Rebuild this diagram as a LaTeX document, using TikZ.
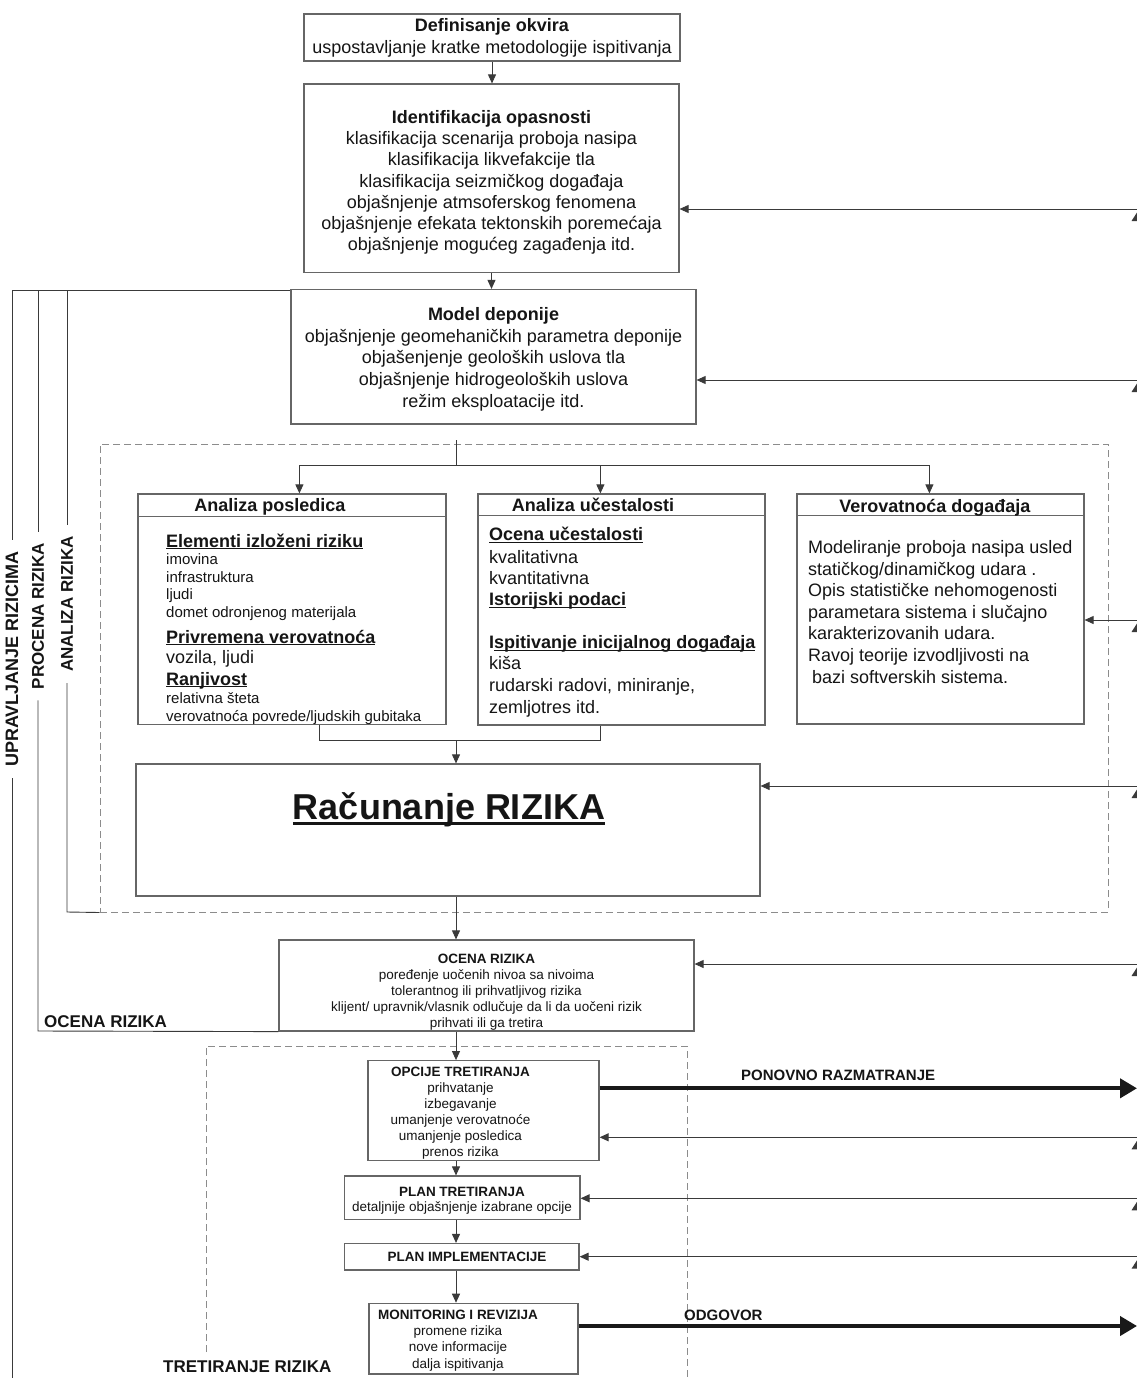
\documentclass[tikz,border=0pt]{standalone}
\usepackage{fontspec}
\setmainfont{Liberation Sans}
\usetikzlibrary{arrows.meta,calc,fit}
\definecolor{boxc}{HTML}{666666}
\definecolor{linec}{HTML}{3A3A3A}
\definecolor{dashc}{HTML}{8C8C8C}
\definecolor{txtc}{HTML}{151515}
\newcommand\fsz[1]{\fontsize{#1}{#1}\selectfont}
% underline: depth below baseline, rule thickness, text
\newcommand\undlx[3]{\setbox0\hbox{#3}\rlap{\rule[-#1]{\wd0}{#2}}\box0}
\newcommand\undl[1]{\undlx{2.4pt}{1.2pt}{#1}}
\begin{document}
\begin{tikzpicture}[x=1pt,y=-1pt,
  box/.style={draw=boxc, line width=1.2pt, inner sep=0pt},
  txt/.style={text=txtc, inner sep=0pt, anchor=base},
  ltxt/.style={text=txtc, inner sep=0pt, anchor=base west},
  conn/.style={draw=linec, line width=0.9pt},
  arr/.style={conn, -{Triangle[length=9pt,width=8pt]}},
  bigarr/.style={draw=black!90, line width=4pt, -{Triangle[length=17pt,width=19pt]}},
  dashbox/.style={draw=dashc, line width=1pt, inner sep=0pt, dash pattern=on 7pt off 4pt},
  side/.style={text=txtc, font=\fsz{17}\bfseries, inner ysep=0pt, inner xsep=11pt},
  big/.style={font=\fsz{18}},
  small/.style={font=\fsz{13.5}},
]
\useasboundingbox[fill=white] (0,0) rectangle (1137,1378);

% ---------------- boxes ----------------
\node[box, fit={(304,14)(680,61)}] (def) {};
\node[box, fit={(304,84)(679,272.5)}] (ident) {};
\node[box, fit={(291,289.5)(696,424)}] (model) {};
\node[dashbox, fit={(100,444)(1108,912)}] (dashA) {};
\node[box, fit={(138,494)(446,724.5)}] (posl) {};
\node[box, fit={(478,494)(765,725)}] (uces) {};
\node[box, fit={(797,494)(1084,724)}] (verov) {};
\node[box, fit={(136,764)(760,896)}] (racun) {};
\node[box, fit={(279,940)(694,1031)}] (ocena) {};
\node[box, fit={(368,1060.7)(599,1160.7)}] (opc) {};
\node[box, fit={(344.7,1176)(580,1219.3)}] (ptret) {};
\node[box, fit={(344.7,1243.5)(579,1270)}] (pimpl) {};
\node[box, fit={(369,1303.3)(578,1374)}] (monit) {};

% header rules of the three analysis boxes
\draw[box] ($(posl.north west)+(0,23)$) -- ($(posl.north east)+(0,23)$);
\draw[box] ($(uces.north west)+(0,22)$) -- ($(uces.north east)+(0,22)$);
\draw[box] ($(verov.north west)+(0,22)$) -- ($(verov.north east)+(0,22)$);

% treatment region (open at the bottom)
\draw[dashbox] (206,1352) -- (206,1046) -- (687,1046) -- (687,1378);

% ---------------- texts ----------------
\node[txt, big] (defA) at (492,31.5) {\textbf{Definisanje okvira}};
\node[txt, big] (defB) at (492,53.5) {uspostavljanje kratke metodologije ispitivanja};

\foreach \t [count=\i] in {{\textbf{Identifikacija opasnosti}},
  {klasifikacija scenarija proboja nasipa},
  {klasifikacija likvefakcije tla},
  {klasifikacija seizmičkog događaja},
  {objašnjenje atmsoferskog fenomena},
  {objašnjenje efekata tektonskih poremećaja},
  {objašnjenje mogućeg zagađenja itd.}}
  \node[txt, big] (identL\i) at (491.5,{123.5+21.2*(\i-1)}) {\t};

\foreach \t [count=\i] in {{\textbf{Model deponije}},
  {objašnjenje geomehaničkih parametra deponije},
  {objašenjenje geoloških uslova tla},
  {objašnjenje hidrogeoloških uslova},
  {režim eksploatacije itd.}}
  \node[txt, big] (modelL\i) at (493.5,{320.5+21.7*(\i-1)}) {\t};

% analysis of consequences
\node[txt, big] (poslH) at (270,511) {\textbf{Analiza posledica}};
\node[ltxt, big] (p1) at (166,547) {\textbf{\undl{Elementi izloženi riziku}}};
\node[ltxt, font=\fsz{15}] (p2) at (166,564) {imovina};
\node[ltxt, font=\fsz{15}] (p3) at (166,582) {infrastruktura};
\node[ltxt, font=\fsz{15}] (p4) at (166,599.5) {ljudi};
\node[ltxt, font=\fsz{15}] (p5) at (166,617) {domet odronjenog materijala};
\node[ltxt, big] (p6) at (166,643) {\textbf{\undl{Privremena verovatnoća}}};
\node[ltxt, big] (p7) at (166,663.5) {vozila, ljudi};
\node[ltxt, big] (p8) at (166,685) {\textbf{\undl{Ranjivost}}};
\node[ltxt, font=\fsz{15}] (p9) at (166,703) {relativna šteta};
\node[ltxt, font=\fsz{15}] (p10) at (166,721.5) {verovatnoća povrede/ljudskih gubitaka};

% frequency analysis
\node[txt, big] (ucesH) at (593,511.5) {\textbf{Analiza učestalosti}};
\node[ltxt, big] (u1) at (489,540.5) {\textbf{\undl{Ocena učestalosti}}};
\node[ltxt, big] (u2) at (489,563) {kvalitativna};
\node[ltxt, big] (u3) at (489,584.5) {kvantitativna};
\node[ltxt, big] (u4) at (489,605.5) {\textbf{\undl{Istorijski podaci}}};
\node[ltxt, big] (u5) at (489,648.5) {\textbf{I\undl{spitivanje inicijalnog događaja}}};
\node[ltxt, big] (u6) at (489,669.5) {kiša};
\node[ltxt, big] (u7) at (489,691.5) {rudarski radovi, miniranje,};
\node[ltxt, big] (u8) at (489,713) {zemljotres itd.};

% event probability
\node[txt, big] (verovH) at (935,512) {\textbf{Verovatnoća događaja}};
\foreach \t [count=\i] in {{Modeliranje proboja nasipa usled},
  {statičkog/dinamičkog udara .},
  {Opis statističke nehomogenosti},
  {parametara sistema i slučajno},
  {karakterizovanih udara.},
  {Ravoj teorije izvodljivosti na},
  {\hspace{4pt}bazi softverskih sistema.}}
  \node[ltxt, big] (v\i) at (808,{553.5+21.6*(\i-1)}) {\t};

% risk computation
\node[txt, font=\fsz{36}\bfseries] (racT) at (449,819.5) {\undlx{5pt}{2.4pt}{Računanje RIZIKA}};

% risk evaluation
\foreach \t [count=\i] in {{\textbf{OCENA RIZIKA}},
  {poređenje uočenih nivoa sa nivoima},
  {tolerantnog ili prihvatljivog rizika},
  {klijent/ upravnik/vlasnik odlučuje da li da uočeni rizik},
  {prihvati ili ga tretira}}
  \node[txt, small] (ocL\i) at (486.5,{963.3+16*(\i-1)}) {\t};

% treatment options
\foreach \t [count=\i] in {{\textbf{OPCIJE TRETIRANJA}},
  {prihvatanje}, {izbegavanje}, {umanjenje verovatnoće},
  {umanjenje posledica}, {prenos rizika}}
  \node[txt, small] (opL\i) at (460.5,{1076.7+15.9*(\i-1)}) {\t};

\node[txt, small] (ptA) at (462,1196) {\textbf{PLAN TRETIRANJA}};
\node[txt, small] (ptB) at (462,1211.7) {detaljnije objašnjenje izabrane opcije};
\node[txt, small] (piA) at (467,1261.7) {\textbf{PLAN IMPLEMENTACIJE}};
\foreach \t [count=\i] in {{\textbf{MONITORING I REVIZIJA}},
  {promene rizika}, {nove informacije}, {dalja ispitivanja}}
  \node[txt, small] (moL\i) at (458,{1319+16.4*(\i-1)}) {\t};

% region labels
\node[side, rotate=90, font=\fsz{18}\bfseries] (lblU) at (12,659) {UPRAVLJANJE RIZICIMA};
\node[side, rotate=90] (lblP) at (38,616) {PROCENA RIZIKA};
\node[side, rotate=90] (lblA) at (67,604) {ANALIZA RIZIKA};
\node[ltxt, font=\fsz{17}\bfseries] (lblO) at (44,1027) {OCENA RIZIKA};
\node[ltxt, font=\fsz{17}\bfseries] (lblT) at (163,1372) {TRETIRANJE RIZIKA};

% ---------------- left brackets ----------------
\coordinate (tl) at (12,290);
\draw[conn] (tl) -- (tl -| model.west);
\draw[conn] (tl) -- (lblU.east);
\draw[conn] (lblU.west) -- (12,1378);
\draw[conn] (38,290) -- (lblP.east);
\draw[conn] (lblP.west) -- (38,1031) -- (ocena.south west);
\draw[conn] (67,290) -- (lblA.east);
\draw[conn] (lblA.west) -- (67,912) -- (dashA.south west);

% ---------------- main flow ----------------
\coordinate (ax) at (456,0);
\draw[arr] (def.south) -- (def.south |- ident.north);
\draw[arr] (ident.south) -- (ident.south |- model.north);

\coordinate (sp) at (456,440);
\coordinate (bus) at (456,465);
\draw[conn] (sp) -- (bus);
\draw[arr] (bus) -| ($(posl.north west)+(162,0)$);
\draw[arr] (bus) -| ($(uces.north west)+(123,0)$);
\draw[arr] (bus) -| ($(verov.north west)+(133,0)$);

\coordinate (join) at (456,740.5);
\draw[conn] ($(posl.south west)+(182,0)$) |- (join);
\draw[conn] ($(uces.south west)+(123,0)$) |- (join);
\draw[arr] (join) -- (join |- racun.north);

\draw[arr] (ax |- racun.south) -- (ax |- ocena.north);
\draw[arr] (ax |- ocena.south) -- (ax |- opc.north);
\draw[arr] (ax |- opc.south) -- (ax |- ptret.north);
\draw[arr] (ax |- ptret.south) -- (ax |- pimpl.north);
\draw[arr] (ax |- pimpl.south) -- (ax |- monit.north);

% ---------------- feedback from the right ----------------
\coordinate (rI) at (1137,209);
\coordinate (rM) at (1137,380);
\coordinate (rV) at (1137,620);
\coordinate (rR) at (1137,786);
\coordinate (rO) at (1137,964);
\coordinate (rP) at (1137,1137.3);
\coordinate (rT) at (1137,1198.3);
\coordinate (rL) at (1137,1256.7);
\draw[arr] (rI) -- (rI -| ident.east);
\draw[arr] (rM) -- (rM -| model.east);
\draw[arr] (rV) -- (rV -| verov.east);
\draw[arr] (rR) -- (rR -| racun.east);
\draw[arr] (rO) -- (rO -| ocena.east);
\draw[arr] (rP) -- (rP -| opc.east);
\draw[arr] (rT) -- (rT -| ptret.east);
\draw[arr] (rL) -- (rL -| pimpl.east);
\foreach \yy in {209,380,620,786,964,1137.3,1198.3,1256.7}
  \fill[linec] (1131.5,{\yy+12}) -- (1137,{\yy+3.5}) -- (1137,{\yy+12}) -- cycle;

% ---------------- outputs ----------------
\coordinate (pr) at (1137,1088.3);
\draw[bigarr] (pr -| opc.east) -- (pr);
\node[ltxt, font=\fsz{15}\bfseries] (prl) at (741,1080.5) {PONOVNO RAZMATRANJE};
\coordinate (od) at (1137,1326);
\draw[bigarr] (od -| monit.east) -- (od);
\node[ltxt, font=\fsz{15}\bfseries] (odl) at (684,1320) {ODGOVOR};
\end{tikzpicture}
\end{document}
